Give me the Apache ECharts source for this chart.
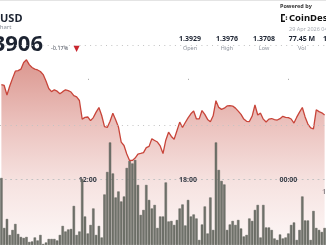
<!DOCTYPE html>
<html><head><meta charset="utf-8">
<script src="https://cdn.jsdelivr.net/npm/echarts@6/dist/echarts.min.js"></script>
<style>html,body{margin:0;padding:0;background:#fff;}#c{width:326px;height:245px;}</style>
</head><body><div id="c"></div>
<script>
// ---- data (10-minute buckets) ----
const TIME_START = '06:50';
const STEP_MIN = 10;
const TICK_LABELS = ['12:00', '18:00', '00:00'];
const GRID_LEVELS = [1.395, 1.390];
const PRICE = [
  1.39506,1.39494,1.39375,1.39488,1.39583,1.39673,1.39679,1.39698,1.39782,1.39815,
  1.39755,1.39718,1.39698,1.39688,1.39669,1.39630,1.39550,1.39456,1.39417,1.39440,
  1.39423,1.39390,1.39417,1.39440,1.39429,1.39412,1.39367,1.39351,1.39306,1.39074,
  1.39095,1.39100,1.39054,1.39093,1.39161,1.39218,1.39119,1.38979,1.38969,1.39048,
  1.39146,1.39065,1.38976,1.38786,1.38744,1.38637,1.38556,1.38557,1.38586,1.38637,
  1.38644,1.38655,1.38717,1.38733,1.38827,1.38807,1.38787,1.38738,1.38643,1.38810,
  1.38910,1.38857,1.38821,1.38929,1.39036,1.38968,1.39031,1.39090,1.39140,1.39174,
  1.39076,1.39077,1.39181,1.39133,1.39070,1.39040,1.39115,1.39304,1.39220,1.39195,
  1.39210,1.39238,1.39242,1.39237,1.39211,1.39173,1.39133,1.39074,1.39046,1.39043,
  1.39112,1.39250,1.39125,1.39148,1.39073,1.39037,1.39074,1.39081,1.39067,1.39062,
  1.39079,1.39108,1.39096,1.39093,1.39075,1.39024,1.39098,1.39161,1.39219,1.39101,
  1.39012,1.38964,1.38952,1.39190,1.39167,1.39152,1.39126
];
const VOLUME = [
  670,170,260,100,150,210,110,80,70,80,
  30,35,75,45,100,10,25,60,60,60,
  45,100,190,135,155,160,390,100,135,660,
  285,115,200,365,100,190,75,505,730,1025,
  715,475,535,435,485,770,840,815,850,600,
  300,350,600,450,365,400,170,285,285,625,
  235,240,200,250,365,405,195,450,285,305,
  265,50,205,385,115,475,150,1025,750,640,
  605,150,205,240,200,250,165,85,100,265,
  240,350,400,75,400,175,175,150,65,50,
  105,65,75,115,200,225,50,150,485,245,
  245,50,340,170,150,130,170
];
const STATS = [
  {value:'1.3929', label:'Open'},
  {value:'1.3976', label:'High'},
  {value:'1.3708', label:'Low'},
  {value:'77.45 M', label:'Vol'},
  {value:'1.3906', label:'Close'}
];

// category labels (times)
const CATS = [];
(function(){
  const p = TIME_START.split(':');
  let m = (+p[0]) * 60 + (+p[1]);
  for (let i = 0; i < PRICE.length; i++) {
    const mm = ((m % 1440) + 1440) % 1440;
    CATS.push(String(Math.floor(mm/60)).padStart(2,'0') + ':' + String(mm%60).padStart(2,'0'));
    m += STEP_MIN;
  }
})();
const isTick = (idx, val) => TICK_LABELS.indexOf(val) >= 0;

const chart = echarts.init(document.getElementById('c'), null, {renderer:'canvas'});
const FONT = 'Noto Sans';
const dark = '#1c2331';

function txt(x, y, text, size, opts) {
  return {type:'text', x:x, y:y, silent:true, style:Object.assign({text:text, fontSize:size, fontFamily:FONT, fill:dark, verticalAlign:'middle'}, opts || {})};
}

const statCenters = [190, 227, 264, 302, 334];
const graphics = [
  {type:'line', shape:{x1:0,y1:0.5,x2:326,y2:0.5}, style:{stroke:'#e4e4e4', lineWidth:1}, silent:true},
  txt(0, 18.5, 'USD', 11, {fontWeight:'bold'}),
  txt(-4, 27, 'Chart', 6, {fill:'#8a8f99'}),
  txt(43, 44.5, '1.3906', 22, {fontWeight:'bold', align:'right'}),
  txt(51, 48.5, '-0.17%', 5.5, {fill:'#4a505c'}),
  txt(73.5, 48.5, '▼', 8, {fontFamily:'DejaVu Sans', fill:'#c9262e'}),
  txt(280, 6.8, 'Powered by', 5.5, {fontWeight:'bold', fill:'#333'}),
  {type:'rect', silent:true, shape:{x:281,y:14,width:1.5,height:8}, style:{fill:'#111'}},
  {type:'rect', silent:true, shape:{x:281,y:14,width:4,height:1.5}, style:{fill:'#111'}},
  {type:'rect', silent:true, shape:{x:281,y:20.5,width:4,height:1.5}, style:{fill:'#111'}},
  {type:'rect', silent:true, shape:{x:285.8,y:16.4,width:1.3,height:1.3}, style:{fill:'#111'}},
  {type:'rect', silent:true, shape:{x:285.8,y:18.6,width:1.3,height:1.3}, style:{fill:'#111'}},
  txt(289, 18.3, 'CoinDesk', 9.5, {fontWeight:'bold', fill:'#111'}),
  txt(289, 29.3, '29 Apr 2026 04:00 UTC', 5.5, {fill:'#a8acb3'}),
  txt(322, 191.5, '1', 7, {fontWeight:'bold', fill:'#3b404a'})
];
STATS.forEach((s, i) => {
  graphics.push(txt(statCenters[i], 38.5, s.value, 7, {fontWeight:'bold', align:'center'}));
  graphics.push(txt(statCenters[i], 48, s.label, 5.5, {fill:'#8a8f99', align:'center'}));
});

const option = {
  animation: false,
  backgroundColor: '#fff',
  grid: [
    {left:0, right:0, top:5, bottom:-12},
    {left:0, right:0, top:135, bottom:0}
  ],
  xAxis: [
    {gridIndex:0, type:'category', data:CATS, boundaryGap:true, offset:-66, z:1.5,
     axisLine:{show:true, lineStyle:{color:'#c2c2c2', width:1, type:[1,4.3]}},
     axisTick:{show:false},
     axisLabel:{interval:isTick, margin:1, verticalAlign:'middle', fontSize:7, fontWeight:'bold', fontFamily:FONT, color:'#3b404a'},
     splitLine:{show:false}},
    {gridIndex:1, type:'category', data:CATS, boundaryGap:true, show:false},
    {gridIndex:0, type:'category', data:CATS, boundaryGap:true, offset:-75, z:1.5,
     axisLine:{show:false},
     axisTick:{show:true, interval:isTick, alignWithLabel:true, length:1.2, lineStyle:{color:'#b0b0b0', width:1}},
     axisLabel:{show:false}, splitLine:{show:false}}
  ],
  yAxis: [
    {gridIndex:0, type:'value', min:1.375, max:1.405, show:false, splitLine:{show:false}},
    {gridIndex:1, type:'value', min:0, max:1100, show:false, splitLine:{show:false}}
  ],
  graphic: graphics,
  series: [
    {type:'line', name:'area', xAxisIndex:0, yAxisIndex:0, data:PRICE, symbol:'none', z:1,
     lineStyle:{width:0, opacity:0},
     areaStyle:{origin:'start', color:new echarts.graphic.LinearGradient(0,0,0,1,[
       {offset:0, color:'#cc6b60'},
       {offset:0.35, color:'#e3a8a2'},
       {offset:0.66, color:'#f2d6d3'},
       {offset:1, color:'#fcf4f3'}
     ])},
     markLine:{silent:true, symbol:'none', label:{show:false},
       lineStyle:{color:'#c2c2c2', width:1, type:[1,4.3]},
       data: GRID_LEVELS.map(v => ({yAxis:v}))}},
    {type:'bar', name:'volume', xAxisIndex:1, yAxisIndex:1, data:VOLUME, z:2, barWidth:'84%',
     itemStyle:{color:'#72746d', borderColor:'#4f514a', borderWidth:0.4}},
    {type:'line', name:'price', xAxisIndex:0, yAxisIndex:0, data:PRICE, symbol:'none', z:3,
     lineStyle:{color:'#c8453a', width:1.3}}
  ]
};
chart.setOption(option);
</script></body></html>
